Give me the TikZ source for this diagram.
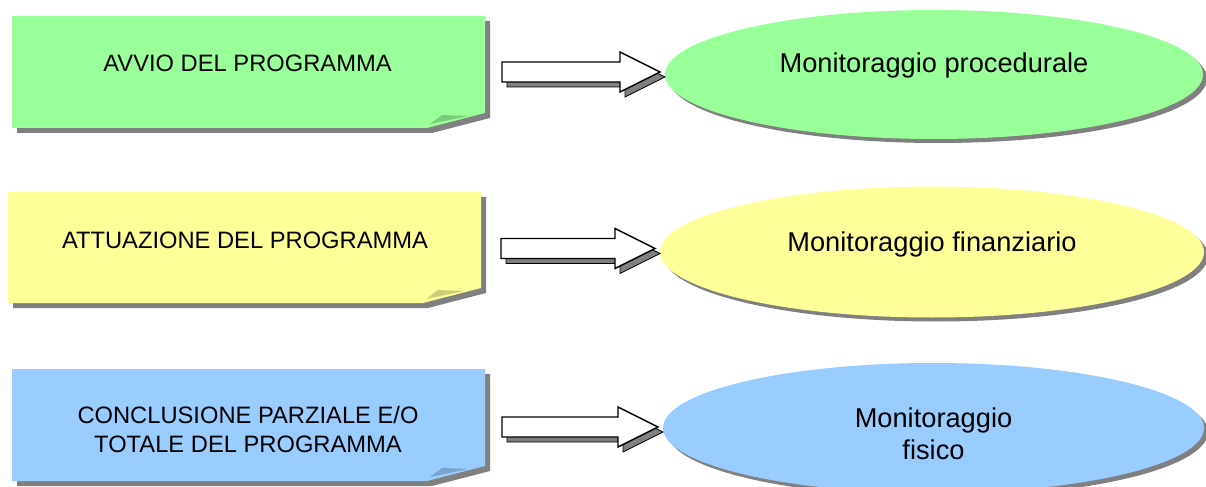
\documentclass[tikz,border=0pt]{standalone}
\usepackage{fontspec}
\setmainfont{Liberation Sans}
\usetikzlibrary{calc,shapes.geometric,shadows}

\definecolor{greennote}{HTML}{99FF99}
\definecolor{yellownote}{HTML}{FFFF99}
\definecolor{bluenote}{HTML}{99CCFF}
\definecolor{shadowgray}{HTML}{808080}

\tikzset{
  notetext/.style={font=\fontsize{13.5}{16.5}\selectfont, align=center, inner sep=0pt},
  monitor/.style={ellipse, inner sep=0pt, outer sep=0pt,
    drop shadow={shadow xshift=0.08cm, shadow yshift=-0.08cm, fill=shadowgray, opacity=1}},
  monitortext/.style={font=\fontsize{15.5}{18.2}\selectfont, align=center, inner sep=0pt},
  arrowshade/.style={fill=shadowgray, transform canvas={shift={(0.1,-0.1)}}},
  arrowbody/.style={fill=white, draw=black, line width=0.8pt, line join=miter}
}

% sticky note: fill colour, top left corner, bottom right corner
\def\stickynote[#1](#2,#3)(#4,#5){
  \fill[shadowgray, shift={(0.1,-0.1)}] (#2,#3) -- (#4,#3) -- (#4,#5+0.3) -- (#4-1.16,#5) -- (#2,#5) -- cycle;
  \fill[#1] (#2,#3) -- (#4,#3) -- (#4,#5+0.3) -- (#4-1.16,#5) -- (#2,#5) -- cycle;
  \fill[#1!80!black] (#4-1.10,#5+0.08) -- (#4-0.86,#5+0.26) -- (#4-0.34,#5+0.24) -- cycle;
}

% block arrow from tail coordinate to tip coordinate
\def\blockarrow(#1)(#2){
  \foreach \sty in {arrowshade,arrowbody}
    \draw[\sty] ($(#1)+(0,0.2)$) -- ($(#2)+(-0.8,0.2)$) -- ($(#2)+(-0.8,0.4)$) -- (#2)
      -- ($(#2)+(-0.8,-0.4)$) -- ($(#2)+(-0.8,-0.2)$) -- ($(#1)+(0,-0.2)$) -- cycle;
}

\begin{document}
\begin{tikzpicture}
		%%%%% START %%%%%
		\useasboundingbox (0,0) rectangle (24.12,9.72);
		
		\stickynote[greennote](0.24,9.40)(9.70,7.16)
		\node[notetext] (avvio) at (4.95,8.45) {AVVIO DEL PROGRAMMA};
		
		\stickynote[yellownote](0.16,5.88)(9.62,3.66)
		\node[notetext] (attuazione) at (4.90,4.92) {ATTUAZIONE DEL PROGRAMMA};
		
		\stickynote[bluenote](0.24,2.34)(9.70,0.10)
		\node[notetext] (conclusione) at (4.96,1.12) {CONCLUSIONE PARZIALE E/O\\TOTALE DEL PROGRAMMA};
		
		\node[monitor, fill=greennote, minimum width=10.76cm, minimum height=2.58cm,
		  label={[monitortext, yshift=0.18cm]center:Monitoraggio procedurale}] (procedurale) at (18.68,8.23) {};
		\node[monitor, fill=yellownote, minimum width=10.88cm, minimum height=2.62cm,
		  label={[monitortext, yshift=0.16cm]center:Monitoraggio finanziario}] (finanziario) at (18.64,4.68) {};
		\node[monitor, fill=bluenote, minimum width=10.82cm, minimum height=2.60cm,
		  label={[monitortext, yshift=-0.12cm]center:{Monitoraggio\\fisico}}] (fisico) at (18.67,1.16) {};
		
		\coordinate (avvio-out) at (10.04,8.28);
		\coordinate (attuazione-out) at (10.02,4.75);
		\coordinate (conclusione-out) at (10.04,1.18);
		\coordinate (procedurale-in) at ($(avvio-out -| procedurale.west)+(-0.1,0)$);
		\coordinate (finanziario-in) at ($(attuazione-out -| finanziario.west)+(-0.1,0)$);
		\coordinate (fisico-in) at ($(conclusione-out -| fisico.west)+(-0.1,0)$);
		
		\blockarrow(avvio-out)(procedurale-in)
		\blockarrow(attuazione-out)(finanziario-in)
		\blockarrow(conclusione-out)(fisico-in)
		
		%%%%% END %%%%%
\end{tikzpicture}
\end{document}
